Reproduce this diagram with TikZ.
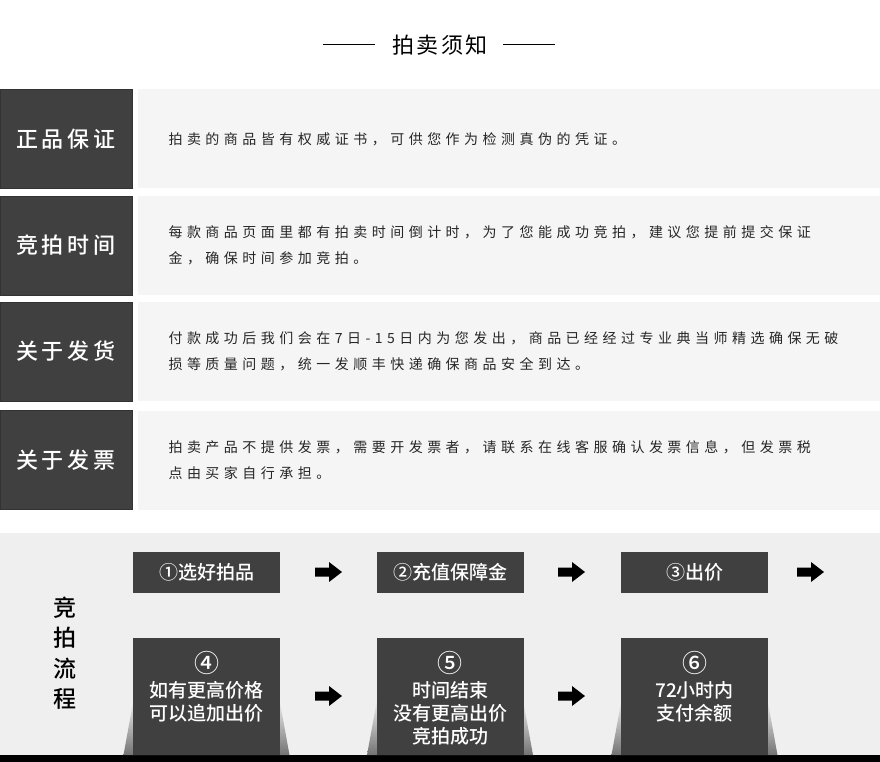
\documentclass[tikz,border=0pt]{standalone}
\usepackage{fontspec}
\setmainfont{Noto Sans CJK SC}
\newfontfamily\body[LetterSpace=32]{Noto Sans CJK SC}
\newfontfamily\lab[LetterSpace=18]{Noto Sans CJK SC Medium}
\newfontfamily\ttl[LetterSpace=10]{Noto Sans CJK SC}
\newfontfamily\stp{Noto Sans CJK SC Medium}
\definecolor{dk}{HTML}{404040}
\definecolor{pn}{HTML}{F5F5F5}
\definecolor{bg}{HTML}{EFEFEF}
\tikzset{
  lbox/.style={fill=dk,draw=dk!80!black,minimum width=132pt,minimum height=99pt,inner sep=0pt,text=white,font=\lab\fontsize{22}{22}\selectfont},
  panel/.style={fill=pn,minimum width=742pt,minimum height=99pt,inner sep=0pt},
  ptext/.style={anchor=west,align=left,font=\body\fontsize{14}{26}\selectfont,text=black!85},
  sbox/.style={fill=dk,minimum width=147pt,inner sep=0pt,text=white,font=\stp\fontsize{19}{23}\selectfont,align=center},
  stext/.style={anchor=north,inner sep=0pt,text=white,font=\stp\fontsize{19}{23}\selectfont,align=center},
  blockarrow/.pic={\fill[black] (-13,-4.5) -- (1,-4.5) -- (1,-10) -- (14,0) -- (1,10) -- (1,4.5) -- (-13,4.5) -- cycle;},
}
\begin{document}
\begin{tikzpicture}[x=1pt,y=-1pt]
\useasboundingbox[fill=white] (0,0) rectangle (880,762);
\node (title) at (440,45) {\ttl\fontsize{22}{22}\selectfont 拍卖须知};
\draw[line width=1pt] (323,45) -- (375,45) (503,45) -- (555,45);
% rows
\foreach \y/\l/\t [count=\i] in {
  139/正品保证/{拍卖的商品皆有权威证书，可供您作为检测真伪的凭证。},
  245.5/竞拍时间/{每款商品页面里都有拍卖时间倒计时，为了您能成功竞拍，建议您提前提交保证\\金，确保时间参加竞拍。},
  351.5/关于发货/{付款成功后我们会在7日-15日内为您发出，商品已经经过专业典当师精选确保无破\\损等质量问题，统一发顺丰快递确保商品安全到达。},
  460/关于发票/{拍卖产品不提供发票，需要开发票者，请联系在线客服确认发票信息，但发票税\\点由买家自行承担。}}{
  \node[lbox] (l\i) at (66,\y) {\l};
  \node[panel] (p\i) at (509,\y) {};
  \node[ptext] (t\i) at (165,\y) {\t};
}
% process area
\fill[bg] (0,533) rectangle (880,755);
\fill[black] (0,755) rectangle (880,762);
\node[align=center,font=\stp\fontsize{23}{30.5}\selectfont] (proc) at (65,653) {竞\\拍\\流\\程};
\foreach \x/\t [count=\i] in {206.5/①选好拍品,450/②充值保障金,694.5/③出价}{
  \node[sbox,minimum height=41pt] (s\i) at (\x,572.5) {\t};
}
\foreach \x/\t [count=\i from 4] in {206.5/{\fontsize{25}{27}\selectfont ④\\[2pt]如有更高价格\\可以追加出价},450/{\fontsize{25}{27}\selectfont ⑤\\[2pt]时间结束\\没有更高出价\\竞拍成功},694.5/{\fontsize{25}{27}\selectfont ⑥\\[2pt]72小时内\\支付余额}}{
  \shade[top color=bg,bottom color=black!55] (\x-83,755) -- (\x-73,700) -- (\x+73,700) -- (\x+83,755) -- cycle;
  \node[sbox,minimum height=117pt] (s\i) at (\x,696.5) {};
  \node[stext] (st\i) at (\x,651) {\t};
}
\foreach \x/\y [count=\i] in {328/572,571/572,810/572,328/696,571/696}{
  \coordinate (a\i) at (\x,\y);
  \pic at (a\i) {blockarrow};
}
\end{tikzpicture}
\end{document}
